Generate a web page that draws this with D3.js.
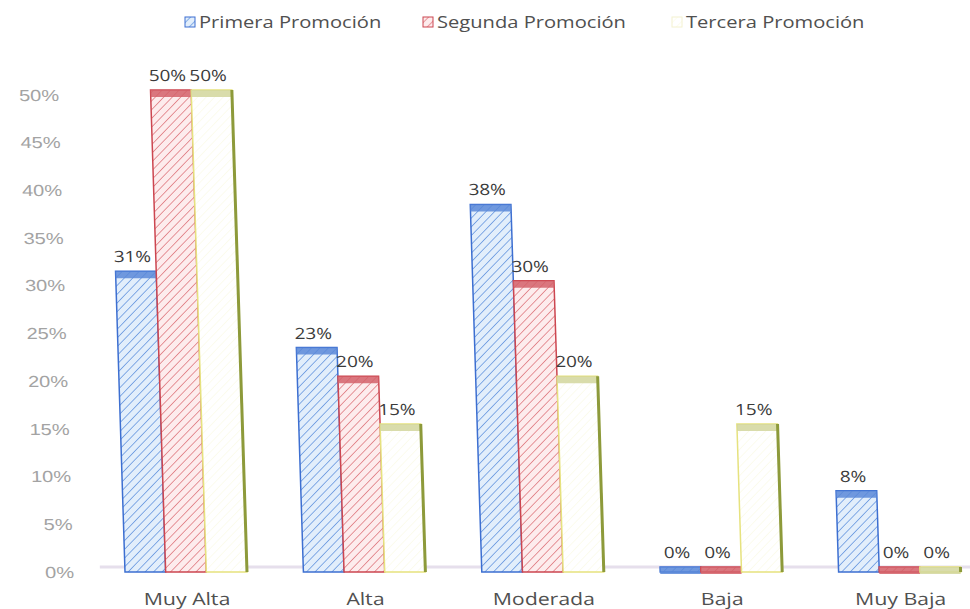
<!DOCTYPE html>
<meta charset="utf-8">
<html>
  <head>
    <style>
      body { margin: 0; background: #fff; }
      svg { font-family: "Open Sans", sans-serif; }
      .tick text { fill: #a3a3a3; font-size: 16px; }
      .xlab { fill: #505050; font-size: 17px; }
      .val { fill: #3a3a3a; font-size: 15.5px; }
      .leg { fill: #505050; font-size: 16.5px; }
    </style>
  </head>
  <body>
    <script src="https://d3js.org/d3.v7.min.js"></script>
    <script>

      var categories = ["Muy Alta", "Alta", "Moderada", "Baja", "Muy Baja"];
      var series = ["Primera Promoción", "Segunda Promoción", "Tercera Promoción"];
      var primera = [0.31, 0.23, 0.38, 0.00, 0.08];
      var segunda = [0.50, 0.20, 0.30, 0.00, 0.00];
      var tercera = [0.50, 0.15, 0.20, 0.15, 0.00];
      var yTicks = [0, 0.05, 0.10, 0.15, 0.20, 0.25, 0.30, 0.35, 0.40, 0.45, 0.50];

      var values = [primera, segunda, tercera];
      var colors = [
        {bg: "#e2eefb", stripe: "#5b8fdd", edge: "#3d6fd1", cap: "#5a88d8"},
        {bg: "#fdeced", stripe: "#dc6f76", edge: "#cc4650", cap: "#d4626a"},
        {bg: "#ffffff", stripe: "#fbfbe8", edge: "#e6e27e", cap: "#d2d69c", right: "#8d9a3a"}
      ];

      var width = 970, height = 609;
      var sx = 1.22; // the scanned chart is stretched sideways
      var svg = d3.select("body").append("svg")
          .attr("width", width)
          .attr("height", height);

      var defs = svg.append("defs");
      colors.forEach(function(c, i) {
        var p = defs.append("pattern")
            .attr("id", "hatch" + i)
            .attr("patternUnits", "userSpaceOnUse")
            .attr("width", 6).attr("height", 6)
            .attr("patternTransform", "rotate(45)");
        p.append("rect").attr("width", 6).attr("height", 6).attr("fill", c.bg);
        p.append("line").attr("x1", 0).attr("y1", 0).attr("x2", 0).attr("y2", 6)
            .attr("stroke", c.stripe).attr("stroke-width", 1.4);
      });

      var y = d3.scaleLinear().domain([0, 0.5]).range([572, 95]);
      var x0 = d3.scaleBand().domain(categories).range([97, 989]);
      var x1 = d3.scaleBand().domain(series).range([28, 150]);

      // whole plot leans a little, like the scan
      var chart = svg.append("g")
          .attr("transform", "translate(0,572) skewX(1.8) translate(0,-572)");

      // y axis
      var yAxis = chart.append("g")
          .attr("transform", "translate(74,0)")
          .call(d3.axisLeft(y).tickValues(yTicks).tickFormat(d3.format(".0%")).tickSize(0).tickPadding(0));
      yAxis.select(".domain").remove();
      yAxis.selectAll(".tick text").attr("x", 0).attr("transform", "scale(" + (sx + 0.03) + ",1)");

      // floor
      chart.append("line")
          .attr("x1", 100).attr("x2", 975)
          .attr("y1", y(0) - 5).attr("y2", y(0) - 5)
          .attr("stroke", "#e6dfec").attr("stroke-width", 3);

      var groups = chart.selectAll(".grp")
        .data(categories)
        .enter().append("g")
          .attr("class", "grp")
          .attr("transform", function(d) { return "translate(" + x0(d) + ",0)"; });

      groups.each(function(cat, ci) {
        var g = d3.select(this);
        series.forEach(function(s, si) {
          var v = values[si][ci];
          var c = colors[si];
          var bx = x1(s), bw = x1.bandwidth();
          var top = y(v) - 5;
          var bottom = y(0);
          g.append("rect")
              .attr("x", bx).attr("y", top)
              .attr("width", bw).attr("height", bottom - top)
              .attr("fill", "url(#hatch" + si + ")")
              .attr("stroke", c.edge).attr("stroke-width", 1.5);
          g.append("rect")
              .attr("x", bx).attr("y", top)
              .attr("width", bw).attr("height", 7)
              .attr("fill", c.cap).attr("opacity", 0.85);
          if (c.right) {
            g.append("line")
                .attr("x1", bx + bw).attr("x2", bx + bw)
                .attr("y1", top).attr("y2", bottom)
                .attr("stroke", c.right).attr("stroke-width", 3);
          }
          g.append("text")
              .attr("class", "val")
              .attr("transform", "translate(" + (bx + bw / 2 - 3) + "," + (top - 9) + ") scale(" + sx + ",1)")
              .attr("text-anchor", "middle")
              .text(d3.format(".0%")(v));
        });
      });

      // x labels
      chart.selectAll(".xlab")
        .data(categories)
        .enter().append("text")
          .attr("class", "xlab")
          .attr("transform", function(d) {
            return "translate(" + (x0(d) + x0.bandwidth() / 2) + ",605) scale(" + (sx + 0.03) + ",1)";
          })
          .attr("text-anchor", "middle")
          .text(function(d) { return d; });

      // legend
      var legX = [185, 423, 672];
      var leg = svg.selectAll(".legitem")
        .data(series)
        .enter().append("g")
          .attr("transform", function(d, i) { return "translate(" + legX[i] + ",22)"; });
      leg.append("rect")
          .attr("x", 0).attr("y", -5)
          .attr("width", 10).attr("height", 10)
          .attr("fill", function(d, i) { return "url(#hatch" + i + ")"; })
          .attr("stroke", function(d, i) { return i == 2 ? "#f4f2d0" : colors[i].edge; });
      leg.append("text")
          .attr("class", "leg")
          .attr("transform", "translate(14,6) scale(" + sx + ",1)")
          .text(function(d) { return d; });

    </script>
  </body>
</html>
